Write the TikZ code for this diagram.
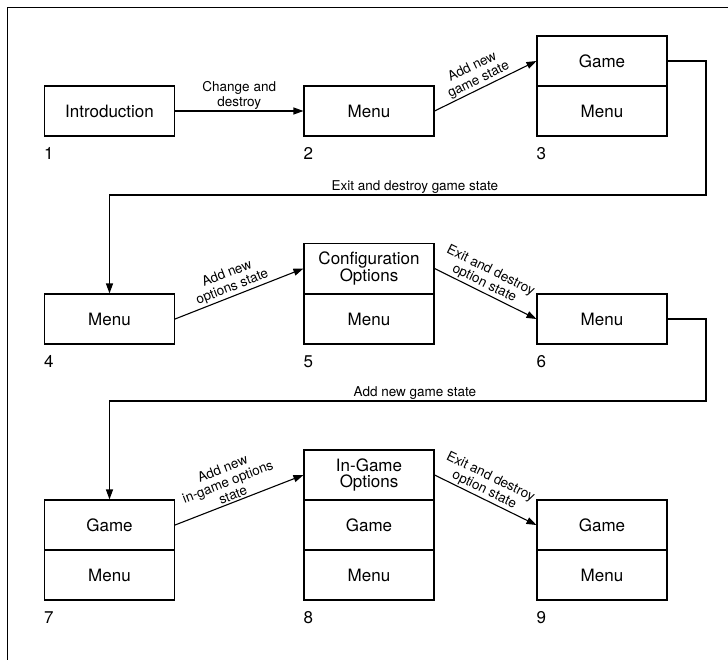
\documentclass[tikz,border=0pt]{standalone}
\usepackage{fontspec}
\setmainfont{TeX Gyre Heros}
\usetikzlibrary{arrows.meta,calc}
\begin{document}
\begin{tikzpicture}[x=1pt,y=-1pt,
 cell/.style={draw,line width=1.1pt,minimum width=130pt,minimum height=50pt,inner sep=0pt,align=center,font=\fontsize{17}{16.5}\selectfont},
 num/.style={anchor=west,inner sep=0pt,font=\fontsize{17}{17}\selectfont},
 lbl/.style={font=\fontsize{13.5}{14.2}\selectfont,align=center,inner sep=1.5pt},
 conn/.style={line width=1.1pt,-{Triangle[length=10pt,width=7pt]}}]
\useasboundingbox (0,0) rectangle (728,659);
\draw[line width=1pt] (7,760) -- (7,7) -- (760,7);
% row 1
\node[cell] (b1) at (109.5,111) {Introduction};
\node[cell] (b2) at (369,111) {Menu};
\node[cell] (b3a) at (602,61) {Game};
\node[cell] (b3b) at (602,111) {Menu};
% row 2
\node[cell] (b4) at (109.5,319) {Menu};
\node[cell] (b5a) at (369,268.5) {Configuration\\Options};
\node[cell] (b5b) at (369,319) {Menu};
\node[cell] (b6) at (602,319) {Menu};
% row 3
\node[cell] (b7a) at (109.5,525) {Game};
\node[cell] (b7b) at (109.5,575) {Menu};
\node[cell] (b8a) at (369,475) {In-Game\\Options};
\node[cell] (b8b) at (369,525) {Game};
\node[cell] (b8c) at (369,575) {Menu};
\node[cell] (b9a) at (602,525) {Game};
\node[cell] (b9b) at (602,575) {Menu};
% numbers
\node[num] (n1) at ($(b1.south west)+(0,17)$) {1};
\node[num] (n2) at ($(b2.south west)+(0,17)$) {2};
\node[num] (n3) at ($(b3b.south west)+(0,17)$) {3};
\node[num] (n4) at ($(b4.south west)+(0,17)$) {4};
\node[num] (n5) at ($(b5b.south west)+(0,17)$) {5};
\node[num] (n6) at ($(b6.south west)+(0,17)$) {6};
\node[num] (n7) at ($(b7b.south west)+(0,17)$) {7};
\node[num] (n8) at ($(b8c.south west)+(0,17)$) {8};
\node[num] (n9) at ($(b9b.south west)+(0,17)$) {9};
% arrows
\draw[conn] (b1) -- node[lbl,above]{Change and\\destroy} (b2);
\draw[conn] (b2.east) -- node[lbl,above,sloped,pos=0.47]{Add new\\game state} (b3a.west);
\draw[conn] (b4.east) -- node[lbl,above,sloped,pos=0.47]{Add new\\options state} (b5a.west);
\draw[conn] (b5a.east) -- node[lbl,above,sloped,pos=0.45]{Exit and destroy\\option state} (b6.west);
\draw[conn] (b7a.east) -- node[lbl,above,sloped,pos=0.47]{Add new\\in-game options\\state} (b8a.west);
\draw[conn] (b8a.east) -- node[lbl,above,sloped,pos=0.45]{Exit and destroy\\option state} (b9a.west);
% loops
\coordinate (r1) at (706,195);
\coordinate (r2) at (706,401);
\draw[conn] (b3a.east) -- (b3a.east -| r1) -- (r1) -- node[lbl,above,pos=0.488]{Exit and destroy game state} (r1 -| b4.north) -- (b4.north);
\draw[conn] (b6.east) -- (b6.east -| r2) -- (r2) -- node[lbl,above,pos=0.488]{Add new game state} (r2 -| b7a.north) -- (b7a.north);
\end{tikzpicture}
\end{document}
